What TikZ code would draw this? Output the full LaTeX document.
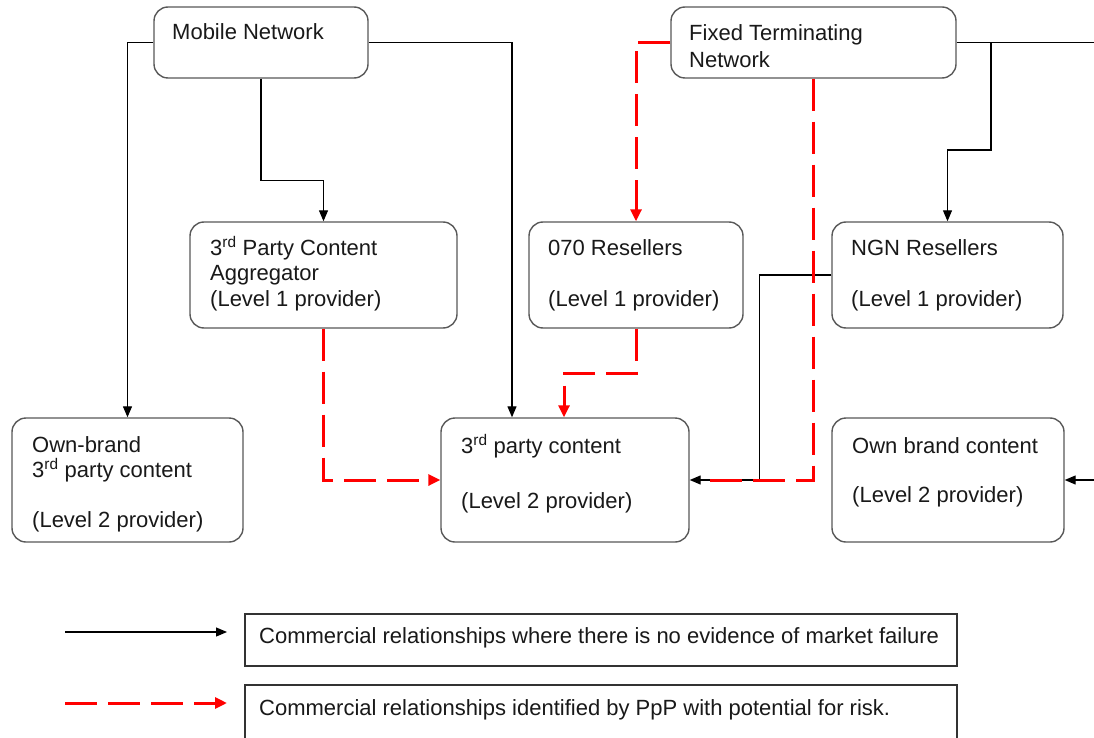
\documentclass[tikz,border=0pt]{standalone}
\usepackage{fontspec}
\setmainfont{Liberation Sans}
\usetikzlibrary{arrows.meta,calc}
\begin{document}
\begin{tikzpicture}[x=1pt,y=-1pt,
  box/.style={draw=black!65,line width=1.4pt,rounded corners=14pt,inner sep=0pt},
  lbox/.style={draw=black!80,line width=1.2pt,inner sep=0pt},
  txt/.style={anchor=base west,inner sep=0pt,font=\fontsize{22}{25}\selectfont,text=black!90},
  blk/.style={draw=black,line width=1.2pt,-{Triangle[length=11pt,width=9pt]}},
  rd/.style={draw=red,line width=3pt,dash pattern=on 32pt off 11pt,-{Triangle[length=12pt,width=11pt]}},
  rdn/.style={draw=red,line width=3pt,dash pattern=on 32pt off 11pt}]
\useasboundingbox (0,0) rectangle (1094,738);
\fill[white] (0,0) rectangle (1094,738);
% boxes
\node[box,minimum width=214,minimum height=71] (mob) at (261,42.5) {};
\node[box,minimum width=285,minimum height=71] (fix) at (813.5,42.5) {};
\node[box,minimum width=267,minimum height=106] (agg) at (323.5,275) {};
\node[box,minimum width=214,minimum height=106] (r070) at (636,275) {};
\node[box,minimum width=231,minimum height=106] (ngn) at (947.5,275) {};
\node[box,minimum width=231,minimum height=124] (own) at (127.5,480) {};
\node[box,minimum width=248,minimum height=124] (tpc) at (565,480) {};
\node[box,minimum width=232,minimum height=124] (ownc) at (948,480) {};
\node[lbox,minimum width=712,minimum height=52] (leg1) at (601,640) {};
\node[lbox,minimum width=712,minimum height=56] (leg2) at (601,713) {};
% texts
\node[txt] (mobT) at (172,40) {Mobile Network};
\node[txt] (fixT1) at (689,41) {Fixed Terminating};
\node[txt] (fixT2) at (689,68) {Network};
\node[txt] (aggT1) at (210,255) {3\textsuperscript{rd} Party Content};
\node[txt] (aggT2) at (210,280) {Aggregator};
\node[txt] (aggT3) at (210,306) {(Level 1 provider)};
\node[txt] (r070T1) at (548,255) {070 Resellers};
\node[txt] (r070T2) at (548,306) {(Level 1 provider)};
\node[txt] (ngnT1) at (851,255) {NGN Resellers};
\node[txt] (ngnT2) at (851,306) {(Level 1 provider)};
\node[txt] (ownT1) at (32,452) {Own-brand};
\node[txt] (ownT2) at (32,477) {3\textsuperscript{rd} party content};
\node[txt] (ownT3) at (32,527) {(Level 2 provider)};
\node[txt] (tpcT1) at (461,453) {3\textsuperscript{rd} party content};
\node[txt] (tpcT2) at (461,508) {(Level 2 provider)};
\node[txt] (owncT1) at (852,453) {Own brand content};
\node[txt] (owncT2) at (852,502) {(Level 2 provider)};
\node[txt] (leg1T) at (259,643) {Commercial relationships where there is no evidence of market failure};
\node[txt] (leg2T) at (259,715) {Commercial relationships identified by PpP with potential for risk.};
% coordinates for free ends
\coordinate (fixR) at (1100,42.5);
\coordinate (fixJ) at (991,42.5);
\coordinate (owncR) at (1100,480);
\coordinate (l1a) at (65,632);
\coordinate (l1b) at (227,632);
\coordinate (l2a) at (65,703);
\coordinate (l2b) at (227,703);
% black connectors
\draw[blk] (mob.west) -| (own.north);
\draw[blk] (mob.east) -| ($(tpc.north)+(-53,0)$);
\draw[blk] (mob.south) -- ++(0,102) -| (agg.north);
\draw[line width=1.2pt] (fix.east) -- (fixR);
\draw[blk] (fixJ) -- ++(0,107.5) -| (ngn.north);
\draw[blk] (owncR) -- (ownc.east);
\draw[blk] (ngn.west) -- ++(-72,0) |- (tpc.east);
% red connectors
\draw[rd] (fix.west) -| (r070.north);
\draw[rdn,shorten >=12pt] (fix.south) |- (tpc.east);
\draw[rd] (agg.south) |- (tpc.west);
\draw[rd] (r070.south) -- ++(0,45) -| ($(tpc.north)+(-1,0)$);
% legend
\draw[blk] (l1a) -- (l1b);
\draw[rd] (l2a) -- (l2b);
\end{tikzpicture}
\end{document}
